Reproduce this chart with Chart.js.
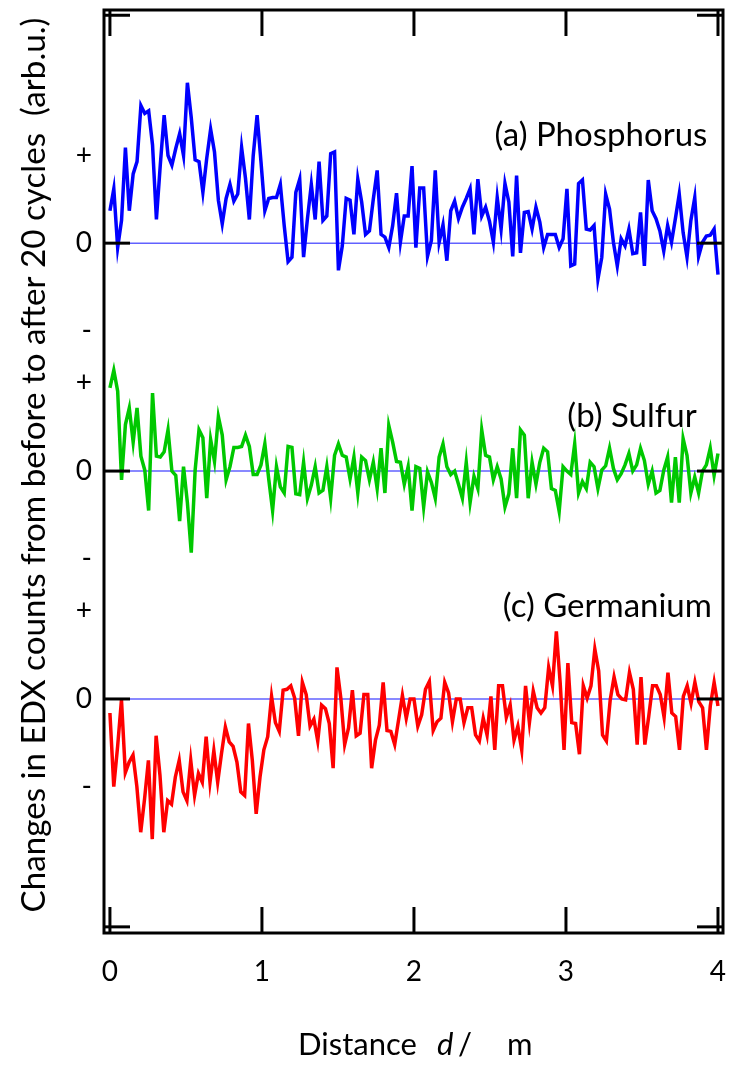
<!DOCTYPE html>
<html>
<head>
<meta charset="utf-8">
<script src="https://cdn.jsdelivr.net/npm/chart.js@4.4.1/dist/chart.umd.min.js"></script>
<style>
  html, body { margin: 0; padding: 0; background: #fff; }
  #wrap { width: 729px; height: 1066px; }
</style>
</head>
<body>
<div id="wrap"><canvas id="edx" width="729" height="1066"></canvas></div>
<script>
'use strict'

/**
 * EDX count changes (before -> after 20 cycles) along distance d
 * values in arb. units, "+" tick = +1, "-" tick = -1
 */

var phosphorus = [
  0.37, 0.62, -0.05, 0.26, 1.09, 0.37, 0.79, 0.93, 1.57, 1.48,
  1.51, 1.12, 0.27, 0.89, 1.46, 1.00, 0.89, 1.08, 1.25, 1.00,
  1.83, 1.43, 0.95, 0.93, 0.58, 0.97, 1.30, 1.04, 0.49, 0.22,
  0.51, 0.67, 0.48, 0.56, 1.09, 0.74, 0.27, 1.00, 1.46, 0.93,
  0.37, 0.51, 0.52, 0.52, 0.67, 0.20, -0.21, -0.16, 0.58, 0.73,
  -0.16, 0.28, 0.67, 0.27, 0.93, 0.26, 0.31, 1.02, 1.04, -0.31,
  -0.03, 0.51, 0.49, 0.10, 0.73, 0.47, 0.10, 0.14, 0.50, 0.83,
  0.10, 0.07, -0.05, 0.20, 0.57, 0.01, 0.31, 0.31, 0.88, -0.05, 0.63,
  0.63, -0.15, 0.03, 0.83, 0.01, 0.21, -0.20, 0.37, 0.48, 0.28,
  0.41, 0.51, 0.62, 0.10, 0.73, 0.31, 0.41, 0.25, 0.01, 0.52,
  0.16, 0.68, 0.47, -0.15, 0.77, -0.11, 0.35, 0.36, 0.16, 0.41,
  0.24, -0.05, 0.10, 0.10, 0.10, -0.05, 0.05, 0.62, -0.26, -0.24,
  0.68, 0.72, 0.16, 0.15, 0.20, -0.41, -0.16, 0.56, 0.39, 0.01,
  -0.26, 0.05, -0.03, 0.16, -0.12, -0.11, 0.35, -0.26, 0.72, 0.37,
  0.28, 0.14, -0.09, 0.20, 0.01, 0.28, 0.56, 0.12, -0.16, 0.26,
  0.52, -0.15, 0.01, 0.08, 0.09, 0.16, -0.36
]

var sulfur = [
  0.95, 1.15, 0.91, -0.10, 0.53, 0.72, 0.33, 0.72, 0.17, 0.01,
  -0.45, 0.89, 0.17, 0.16, 0.22, 0.47, 0.00, -0.05, -0.57, 0.05,
  -0.36, -0.93, 0.01, 0.47, 0.38, -0.31, 0.36, 0.11, 0.62, 0.41,
  -0.10, 0.05, 0.27, 0.27, 0.28, 0.41, 0.28, -0.04, -0.04, 0.07,
  0.31, -0.09, -0.45, 0.05, -0.18, -0.25, 0.28, 0.27, -0.26, -0.27,
  0.10, -0.31, -0.16, 0.05, -0.25, -0.22, 0.05, -0.31, 0.18, 0.31,
  0.18, 0.16, -0.09, 0.16, -0.25, 0.16, 0.12, -0.10, 0.10, -0.20,
  0.26, -0.25, 0.52, 0.33, 0.11, 0.10, -0.15, 0.05, -0.45, 0.05,
  0.03,
  -0.41, -0.01, -0.13, -0.31, 0.16, 0.31, 0.05, -0.04, 0.00, -0.15,
  -0.31, 0.10, -0.36, -0.06, -0.20, 0.47, 0.18, 0.16, -0.10, 0.05,
  -0.09, -0.41, -0.26, 0.26, -0.31, 0.47, 0.41, -0.31, 0.10, -0.15,
  0.10, 0.26, 0.22, -0.20, -0.22, -0.46, 0.05, 0.00, -0.04, 0.31,
  -0.25, -0.12, -0.20, 0.10, 0.05, -0.20, 0.01, 0.06, 0.26, 0.03,
  -0.10, -0.03, 0.07, 0.20, 0.00, 0.07, 0.26, 0.12, -0.15, 0.00,
  -0.25, -0.22, 0.01, 0.16, -0.36, 0.16, -0.36, 0.37, 0.18, -0.25,
  -0.07, -0.25, 0.00, 0.07, 0.26, -0.05, 0.20
]

var germanium = [
  -0.16, -1.00, -0.54, -0.01, -0.84, -0.72, -0.64, -1.00, -1.52, -1.14,
  -0.70, -1.60, -0.42, -0.87, -1.52, -1.16, -1.20, -0.89, -0.70, -1.06,
  -1.16, -0.70, -1.10, -0.85, -0.95, -0.43, -0.95, -0.59, -0.95, -0.62,
  -0.32, -0.49, -0.54, -0.72, -1.06, -1.10, -0.28, -0.70, -1.31, -0.89,
  -0.58, -0.43, 0.03, -0.27, -0.37, 0.10, 0.11, 0.15, 0.01, -0.42,
  0.19, 0.05, -0.31, -0.23, -0.48, -0.07, -0.11, -0.28, -0.79, 0.36,
  0.01, -0.52, -0.33, 0.10, -0.42, -0.39, 0.05, 0.05, -0.79, -0.47,
  -0.30, 0.19, -0.36, -0.37, -0.52, -0.24, 0.04, -0.22, 0.00, 0.00,
  -0.31,
  -0.18, 0.11, 0.20, -0.36, -0.26, -0.22, 0.19, 0.07, -0.26, 0.00,
  0.00, -0.27, -0.10, -0.10, -0.41, -0.48, -0.22, -0.41, 0.03, -0.58,
  0.15, 0.15, -0.21, -0.07, -0.47, -0.31, -0.58, 0.15, -0.27, 0.09,
  -0.10, -0.16, -0.10, 0.36, 0.15, 0.77, 0.18, -0.58, 0.41, -0.27,
  -0.28, -0.63, 0.15, 0.01, 0.15, 0.57, 0.32, -0.41, -0.48, -0.01,
  0.25, 0.05, 0.00, -0.01, 0.30, 0.11, -0.52, 0.25, -0.52, -0.20,
  0.15, 0.15, 0.05, -0.21, 0.30, -0.16, -0.20, -0.58, 0.03, 0.15,
  -0.05, 0.19, -0.03, -0.10, -0.58, -0.08, 0.19, -0.08
]

var panelNames = ['(a) Phosphorus', '(b) Sulfur', '(c) Germanium']
var panelColors = ['#0000ff', '#00c800', '#ff0000']
var panelOffsets = [5.2, 2.6, 0]       // stacked baselines
var distanceTicks = [0, 1, 2, 3, 4]
var signLabels = ['-', '0', '+']       // at baseline -1, 0, +1

var FONT = 'Lato, "Open Sans", sans-serif'
var panelStep = panelOffsets[0] - panelOffsets[1]
var dMax = distanceTicks[distanceTicks.length - 1]

function toPoints(values, offset) {
  var last = values.length - 1
  return values.map(function (v, i) {
    return { x: dMax * i / last, y: v + offset }
  })
}

var series = [phosphorus, sulfur, germanium]
var datasets = series.map(function (vals, k) {
  return {
    label: panelNames[k],
    data: toPoints(vals, panelOffsets[k]),
    borderColor: panelColors[k],
    borderWidth: 3.5,
    borderJoinStyle: 'miter',
    pointRadius: 0,
    tension: 0,
    fill: false
  }
})

// y tick values -> sign labels
var yTicks = []
var yLabelAt = {}
panelOffsets.forEach(function (off) {
  [-1, 0, 1].forEach(function (d, j) {
    var v = +(off + d).toFixed(2)
    yTicks.push(v)
    yLabelAt[v] = signLabels[j]
  })
})
var frameLevels = [panelOffsets[2] - panelStep].concat(panelOffsets.slice().reverse(), [panelOffsets[0] + panelStep])

// label anchors: right edge in distance units, baseline height above zero
var labelAnchors = [
  { x: 3.93, dy: 1.11 },
  { x: 3.86, dy: 0.50 },
  { x: 3.96, dy: 0.94 }
]

function fitSize(ctx, text, family, width, italic) {
  ctx.font = (italic ? 'italic ' : '') + '100px ' + family
  return 100 * width / ctx.measureText(text).width
}

var decor = {
  id: 'decor',
  beforeDatasetsDraw: function (chart) {
    var ctx = chart.ctx
    var a = chart.chartArea
    var ys = chart.scales.y
    ctx.save()
    ctx.strokeStyle = 'rgba(80,80,255,0.9)'
    ctx.lineWidth = 1.5
    panelOffsets.forEach(function (off) {
      var py = ys.getPixelForValue(off)
      ctx.beginPath()
      ctx.moveTo(a.left, py)
      ctx.lineTo(a.right, py)
      ctx.stroke()
    })
    ctx.restore()
  },
  afterDraw: function (chart) {
    var ctx = chart.ctx
    var a = chart.chartArea
    var xs = chart.scales.x
    var ys = chart.scales.y
    var tickLen = 26
    ctx.save()
    ctx.strokeStyle = '#000'
    ctx.lineWidth = 3
    ctx.lineCap = 'butt'

    function seg(x1, y1, x2, y2) {
      ctx.beginPath()
      ctx.moveTo(x1, y1)
      ctx.lineTo(x2, y2)
      ctx.stroke()
    }

    ctx.strokeRect(a.left, a.top, a.right - a.left, a.bottom - a.top)
    distanceTicks.forEach(function (t) {
      var px = xs.getPixelForValue(t)
      seg(px, a.top, px, a.top + tickLen)
      seg(px, a.bottom, px, a.bottom - tickLen)
    })
    frameLevels.forEach(function (v) {
      var py = ys.getPixelForValue(v)
      seg(a.left, py, a.left + tickLen, py)
      seg(a.right, py, a.right - tickLen, py)
    })

    // panel labels
    ctx.fillStyle = '#000'
    var size = fitSize(ctx, panelNames[0], FONT, 213)
    ctx.font = size.toFixed(1) + 'px ' + FONT
    ctx.textAlign = 'right'
    ctx.textBaseline = 'alphabetic'
    panelNames.forEach(function (name, k) {
      var an = labelAnchors[k]
      ctx.fillText(name, xs.getPixelForValue(an.x), ys.getPixelForValue(panelOffsets[k] + an.dy))
    })

    // y title
    var yTitle = 'Changes in EDX counts from before to after 20 cycles  (arb.u.)'
    var ySize = fitSize(ctx, yTitle, FONT, 894)
    ctx.save()
    ctx.translate(34, 465)
    ctx.rotate(-Math.PI / 2)
    ctx.font = ySize.toFixed(1) + 'px ' + FONT
    ctx.textAlign = 'center'
    ctx.textBaseline = 'middle'
    ctx.fillText(yTitle, 0, 0)
    ctx.restore()

    // x title: Distance d /  m
    var xSize = fitSize(ctx, 'Distance', FONT, 119)
    var f = xSize.toFixed(1) + 'px ' + FONT
    ctx.textAlign = 'left'
    ctx.textBaseline = 'alphabetic'
    ctx.font = f
    ctx.fillText('Distance', 298, 1055)
    ctx.font = 'italic ' + f
    ctx.fillText('d', 437, 1055)
    ctx.font = f
    ctx.fillText('/', 458, 1055)
    ctx.fillText('m', 507, 1055)
    ctx.restore()
  }
}

var chart = new Chart(document.getElementById('edx').getContext('2d'), {
  type: 'line',
  data: { datasets: datasets },
  options: {
    responsive: false,
    animation: false,
    events: [],
    layout: { padding: { top: 10, right: 6, left: 0, bottom: 0 } },
    plugins: {
      legend: { display: false },
      tooltip: { enabled: false }
    },
    scales: {
      x: {
        type: 'linear',
        min: -0.039,
        max: 4.033,
        grid: { display: false, drawTicks: false },
        border: { display: false },
        afterBuildTicks: function (scale) {
          scale.ticks = distanceTicks.map(function (v) { return { value: v } })
        },
        afterFit: function (scale) {
          scale.height = 133
          scale.paddingLeft = 0
          scale.paddingRight = 0
        },
        ticks: {
          color: '#000',
          padding: 22,
          maxRotation: 0,
          autoSkip: false,
          font: { family: FONT, size: 28 },
          callback: function (v) { return String(v) }
        }
      },
      y: {
        type: 'linear',
        min: -2.67,
        max: 7.86,
        grid: { display: false, drawTicks: false },
        border: { display: false },
        afterBuildTicks: function (scale) {
          scale.ticks = yTicks.map(function (v) { return { value: v } })
        },
        afterFit: function (scale) {
          scale.width = 104
          scale.paddingTop = 0
          scale.paddingBottom = 0
        },
        ticks: {
          color: '#000',
          padding: 12,
          autoSkip: false,
          font: { family: FONT, size: 28 },
          callback: function (v) { return yLabelAt[+v.toFixed(2)] || '' }
        }
      }
    }
  },
  plugins: [decor]
})
</script>
</body>
</html>
